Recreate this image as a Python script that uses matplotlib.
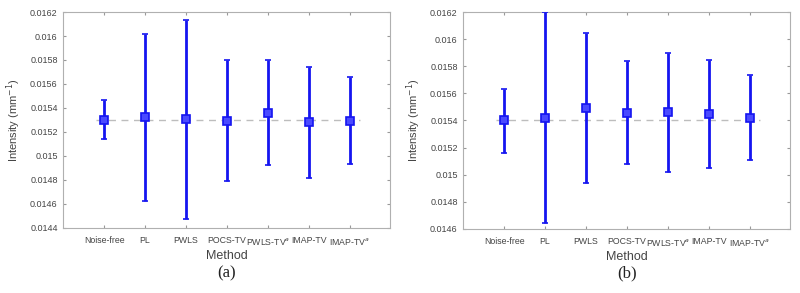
import matplotlib
matplotlib.use("Agg")
import matplotlib.pyplot as plt
from matplotlib.ticker import FuncFormatter

plt.rcParams['font.family'] = ['Liberation Sans', 'DejaVu Sans']

methods = ["Noise-free", "PL", "PWLS", "POCS-TV", "PWLS-TV$^a$", "IMAP-TV", "IMAP-TV$^a$"]

# panel (a)
mean_a = [0.01530, 0.015325, 0.01531, 0.01529, 0.015362, 0.01528, 0.01529]
upper_a = [0.015465, 0.016014, 0.016137, 0.01580, 0.01580, 0.015739, 0.015656]
lower_a = [0.015145, 0.014628, 0.014475, 0.014795, 0.014928, 0.014818, 0.01493]
ref_a = 0.0153
ylim_a = (0.0144, 0.0162)

# panel (b)
mean_b = [0.01540, 0.01542, 0.015493, 0.015457, 0.015459, 0.015446, 0.01542]
upper_b = [0.01563, 0.01620, 0.016046, 0.015835, 0.01590, 0.015843, 0.015737]
lower_b = [0.015162, 0.014644, 0.014941, 0.015076, 0.015019, 0.015051, 0.015105]
ref_b = 0.0154
ylim_b = (0.0146, 0.0162)

panels = [
    ("(a)", mean_a, upper_a, lower_a, ref_a, ylim_a, [0.079, 0.222, 0.409, 0.737]),
    ("(b)", mean_b, upper_b, lower_b, ref_b, ylim_b, [0.579, 0.219, 0.409, 0.740]),
]

fig = plt.figure(figsize=(8, 2.93), dpi=100)
blue = "#1515f0"

for cap, mean, up, lo, ref, ylim, rect in panels:
    ax = fig.add_axes(rect)
    x = list(range(1, len(methods) + 1))
    yerr = [[m - l for m, l in zip(mean, lo)], [u - m for m, u in zip(mean, up)]]
    ax.plot([0.8, 7.25], [ref, ref], ls=(0, (5, 4)), color="#bdbdbd", lw=1.0, zorder=1)
    ax.errorbar(x, mean, yerr=yerr, fmt="s", color=blue, ecolor=blue, elinewidth=2.0,
                capsize=2.5, capthick=2.0, markersize=5.5, mfc="#4a4aff", mec=blue,
                mew=1.2, zorder=3)
    ax.set_xlim(0, 8)
    ax.set_ylim(*ylim)
    ax.set_xticks(x)
    ax.set_xticklabels(methods, fontsize=6.3, color="#444444")
    ax.yaxis.set_major_formatter(FuncFormatter(lambda v, p: f"{v:.4f}".rstrip("0")))
    ax.tick_params(axis="y", labelsize=6.5, labelcolor="#444444", pad=4)
    ax.tick_params(axis="x", pad=6)
    ax.tick_params(direction="in", length=2.5, color="#999999", top=True, right=True)
    for s in ax.spines.values():
        s.set_color("#b0b0b0")
        s.set_linewidth(0.8)
    ax.set_xlabel("Method", fontsize=9, color="#444444", labelpad=2)
    ax.set_ylabel("Intensity (mm$^{-1}$)", fontsize=8, color="#444444", labelpad=5)
    cx = rect[0] + rect[2] / 2
    fig.text(cx, 0.04, cap, ha="center", va="bottom", fontsize=12,
             family=["Liberation Serif", "DejaVu Serif"], color="#222222")

fig.savefig("out.png", dpi=100)
